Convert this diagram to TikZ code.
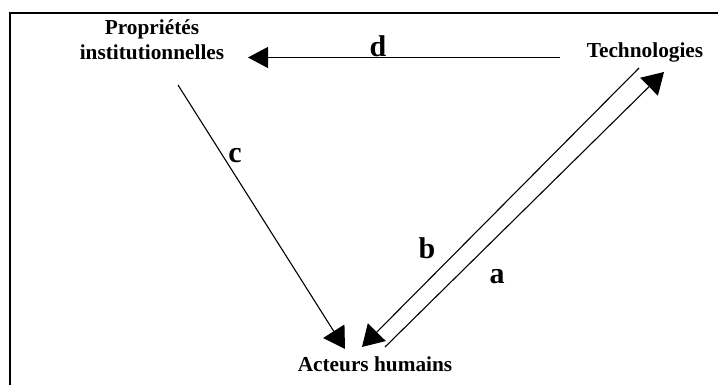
\documentclass[tikz,border=0pt]{standalone}
\usepackage{fontspec}
\setmainfont{Liberation Serif}
\usetikzlibrary{arrows.meta}
\begin{document}
\begin{tikzpicture}[x=1pt,y=-1pt,
  lbl/.style={font=\fontsize{21.3}{25}\selectfont\bfseries, inner sep=0pt, anchor=base, align=center},
  biglbl/.style={lbl, font=\fontsize{30}{34}\selectfont\bfseries},
  conn/.style={line width=1.1pt, -{Triangle[length=21pt,width=25pt]}}]
\useasboundingbox (0,0) rectangle (718,385);
\draw[line width=2pt] (10,385) -- (10,13) -- (718,13);
% nodes
\node[lbl] (prop) at (152,60) {Propriétés\\institutionnelles};
\node[lbl] (tech) at (645,58) {Technologies};
\node[lbl] (act) at (375,371) {Acteurs humains};
% connector ends
\coordinate (dS) at (560,57.5);
\coordinate (dE) at (248,57.5);
\coordinate (cS) at (178,85);
\coordinate (cE) at (345,349);
\coordinate (bS) at (639,68);
\coordinate (bE) at (362,347);
\coordinate (aS) at (385,347);
\coordinate (aE) at (664,72);
\draw[line width=1.1pt, -{Triangle[length=20pt,width=21pt]}] (dS) -- (dE);
\draw[conn] (cS) -- (cE);
\draw[conn] (bS) -- (bE);
\draw[conn] (aS) -- (aE);
% labels
\node[biglbl] (ld) at (378,57) {d};
\node[biglbl] (lc) at (235,163) {c};
\node[biglbl] (lb) at (427,258) {b};
\node[biglbl] (la) at (497,283) {a};
\end{tikzpicture}
\end{document}
